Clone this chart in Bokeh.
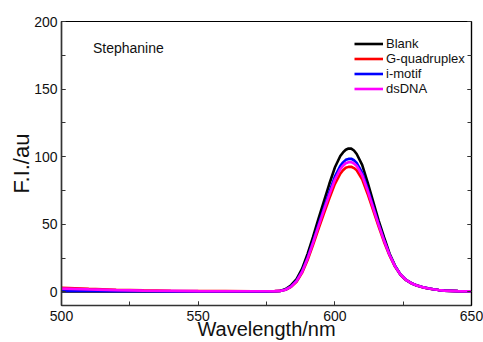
import math
from bokeh.plotting import figure
from bokeh.models import (Range1d, LinearAxis, SingleIntervalTicker, Legend, LegendItem,
                          Label)
from bokeh.embed import file_html
from bokeh.resources import INLINE

# ---- data ----
wavelength = [500, 510, 520, 530, 540, 550, 560, 570, 575, 578, 580, 582, 584, 586, 588,
              590, 592, 594, 596, 598, 600, 602, 603, 604, 605, 606, 607, 608, 610, 612, 614, 616, 618,
              620, 622, 624, 626, 628, 630, 632, 634, 636, 638, 640, 645, 650]

blank = [0.4, 0.4, 0.4, 0.4, 0.3, 0.3, 0.3, 0.3, 0.4, 0.5, 0.8, 2.2, 5.0, 9.5, 17.0,
         28.0, 40.5, 54.0, 67.0, 80.0, 92.0, 100.5, 103.2, 105.2, 106.1, 106.0, 104.6, 102.0, 94.0, 81.0, 67.0, 53.0, 40.5,
         28.5, 19.5, 13.0, 9.0, 6.5, 4.8, 3.6, 2.7, 2.0, 1.4, 1.0, 0.6, 0.5]

g_quadruplex = [3.0, 2.3, 1.7, 1.2, 0.9, 0.7, 0.6, 0.5, 0.5, 0.6, 0.8, 1.6, 3.8, 7.6, 14.1,
                23.4, 34.7, 46.5, 58.0, 69.2, 79.8, 87.5, 90.0, 91.8, 92.5, 92.6, 91.6, 90.0, 83.3, 72.5, 60.5, 48.5, 37.0,
                27.0, 18.8, 12.7, 8.9, 6.4, 4.7, 3.5, 2.6, 2.0, 1.4, 1.0, 0.6, 0.5]

i_motif = [0.8, 0.7, 0.6, 0.5, 0.4, 0.4, 0.3, 0.3, 0.4, 0.5, 0.7, 1.8, 4.2, 8.3, 15.3,
           25.2, 37.2, 49.8, 62.0, 74.0, 85.3, 93.3, 95.8, 97.7, 98.4, 98.5, 97.4, 95.5, 88.3, 76.5, 63.5, 50.5, 38.5,
           27.7, 19.2, 12.9, 9.0, 6.5, 4.8, 3.6, 2.7, 2.0, 1.4, 1.0, 0.6, 0.5]

ds_dna = [2.5, 1.9, 1.4, 1.0, 0.8, 0.6, 0.5, 0.5, 0.5, 0.6, 0.8, 1.7, 4.0, 8.0, 14.8,
          24.5, 36.2, 48.5, 60.5, 72.0, 83.0, 90.8, 93.4, 95.2, 95.9, 96.0, 95.0, 93.2, 86.3, 75.0, 62.3, 49.8, 38.0,
          27.5, 19.1, 12.9, 9.0, 6.5, 4.8, 3.6, 2.7, 2.0, 1.4, 1.0, 0.6, 0.5]

series_names = ["Blank", "G-quadruplex", "i-motif", "dsDNA"]
series_colors = ["#000000", "#ff0000", "#0000ff", "#ff00ff"]
series_values = [blank, g_quadruplex, i_motif, ds_dna]

FONT = "Liberation Sans"

p = figure(width=483, height=342, output_backend="svg", toolbar_location=None,
           x_range=Range1d(500, 650), y_range=Range1d(-10, 200),
           min_border_left=61, min_border_right=12, min_border_top=21, min_border_bottom=36,
           x_axis_location=None, y_axis_location=None)
p.grid.visible = False
p.outline_line_color = "#000000"
p.outline_line_width = 1.2
p.background_fill_color = "white"
p.border_fill_color = "white"


def style_axis(ax, labels=True):
    ax.ticker = SingleIntervalTicker(interval=50, num_minor_ticks=2)
    ax.axis_line_color = "#333333"
    ax.axis_line_width = 1.5
    ax.major_tick_in = 4
    ax.major_tick_out = 0
    ax.minor_tick_in = 4
    ax.minor_tick_out = 0
    ax.major_tick_line_color = "#333333"
    ax.minor_tick_line_color = "#333333"
    ax.major_label_text_font = FONT
    ax.major_label_text_font_size = "14px"
    ax.major_label_text_color = "#111111"
    ax.axis_label_text_font = FONT
    ax.axis_label_text_font_style = "normal"
    ax.axis_label_text_color = "#111111"
    if not labels:
        ax.major_label_text_font_size = "0px"
        ax.major_label_text_color = None


xb = LinearAxis()
style_axis(xb)
xb.major_label_standoff = 5
xb.axis_label = "Wavelength/nm"
xb.axis_label_text_font_size = "20px"
xb.axis_label_standoff = -6
p.add_layout(xb, "below")

yl = LinearAxis()
style_axis(yl)
yl.major_label_standoff = 4
yl.axis_label = "F.I./au"
yl.axis_label_text_font_size = "22px"
yl.axis_label_standoff = -3
p.add_layout(yl, "left")

yr = LinearAxis()
style_axis(yr, labels=False)
yr.axis_line_color = "#000000"
yr.axis_line_width = 1.2
yr.major_label_standoff = 0
p.add_layout(yr, "right")

renderers = []
for name, color, vals in zip(series_names, series_colors, series_values):
    r = p.line(wavelength, vals, line_color=color, line_width=2.6)
    renderers.append((name, r))

legend = Legend(items=[LegendItem(label=n, renderers=[r]) for n, r in renderers],
                location=(293, 209), padding=0, margin=0, spacing=0,
                glyph_width=29, glyph_height=15, label_height=15, label_standoff=3,
                label_text_font=FONT, label_text_font_size="13px",
                label_text_color="#111111",
                background_fill_alpha=0, border_line_color=None)
p.add_layout(legend)

p.add_layout(Label(x=511.5, y=180.5, text="Stephanine", text_font=FONT,
                   text_font_size="14px", text_color="#111111",
                   text_align="left", text_baseline="middle"))

open("out.html", "w").write(file_html(p, INLINE))
